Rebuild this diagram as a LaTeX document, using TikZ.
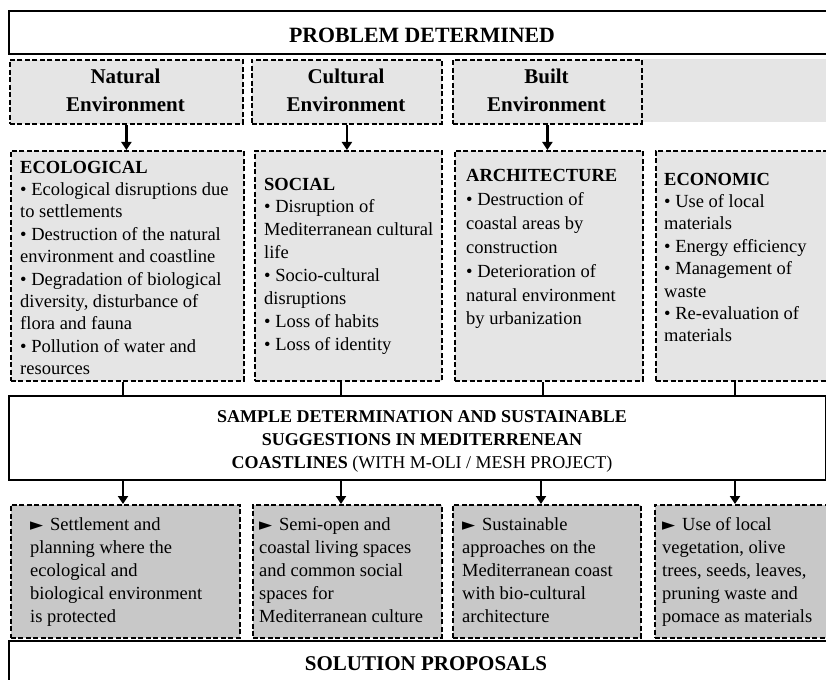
\documentclass[tikz,border=0pt]{standalone}
\usepackage{fontspec}
\setmainfont{Liberation Serif}
\newfontfamily\dvs{DejaVu Sans}
\usetikzlibrary{arrows.meta}
\definecolor{lgray}{HTML}{E5E5E5}
\definecolor{dgray}{HTML}{C8C8C8}
\newcommand{\ptr}{\makebox[20pt][l]{\dvs\fontsize{17}{17}\selectfont ►}}
\begin{document}
\begin{tikzpicture}[x=1pt,y=-1pt,
  solidbox/.style={draw=black, line width=2pt, fill=white, inner sep=0pt, anchor=north west},
  dashbox/.style={draw=black, line width=1.8pt, dash pattern=on 5pt off 2.5pt, inner sep=0pt, anchor=north west},
  txt/.style={inner sep=0pt, anchor=base west},
  arr/.style={line width=2.4pt, -{Triangle[width=10pt,length=8pt]}},
  conn/.style={line width=2.6pt}
]
\useasboundingbox (0,0) rectangle (826,679);
% top box
\node[solidbox, minimum width=832pt, minimum height=43pt] (prob) at (8,10) {};
\node[inner sep=0pt, anchor=base] (probt) at (422,43) {\fontsize{21.8}{26}\selectfont\bfseries PROBLEM DETERMINED};
% row 1
\fill[lgray] (641,59) rectangle (830,122);
\node[dashbox, fill=lgray, minimum width=233pt, minimum height=64pt] (n1) at (9,59) {};
\node[dashbox, fill=lgray, minimum width=190pt, minimum height=64pt] (n2) at (251,59) {};
\node[dashbox, fill=lgray, minimum width=189pt, minimum height=64pt] (n3) at (452,59) {};
\node[inner sep=0pt, anchor=base] (n1t) at (125.5,84) {\parbox[t]{200pt}{\centering\fontsize{21}{28}\selectfont\bfseries Natural\\Environment}};
\node[inner sep=0pt, anchor=base] (n2t) at (346,84) {\parbox[t]{200pt}{\centering\fontsize{21}{28}\selectfont\bfseries Cultural\\Environment}};
\node[inner sep=0pt, anchor=base] (n3t) at (546.5,84) {\parbox[t]{200pt}{\centering\fontsize{21}{28}\selectfont\bfseries Built\\Environment}};
% row 2
\node[dashbox, fill=lgray, minimum width=233pt, minimum height=230pt] (e1) at (10,150) {};
\node[dashbox, fill=lgray, minimum width=187pt, minimum height=230pt] (e2) at (254,150) {};
\node[dashbox, fill=lgray, minimum width=188pt, minimum height=230pt] (e3) at (454,150) {};
\node[dashbox, fill=lgray, minimum width=185pt, minimum height=230pt] (e4) at (655,150) {};
\node[txt] (e1t) at (20,173) {\parbox[t]{230pt}{\fontsize{18.5}{22.4}\selectfont
\textbf{ECOLOGICAL}\\
• Ecological disruptions due\\
to settlements\\
• Destruction of the natural\\
environment and coastline\\
• Degradation of biological\\
diversity, disturbance of\\
flora and fauna\\
• Pollution of water and\\
resources}};
\node[txt] (e2t) at (264,190) {\parbox[t]{230pt}{\fontsize{18.5}{22.9}\selectfont
\textbf{SOCIAL}\\
• Disruption of\\
Mediterranean cultural\\
life\\
• Socio-cultural\\
disruptions\\
• Loss of habits\\
• Loss of identity}};
\node[txt] (e3t) at (466,182) {\parbox[t]{230pt}{\fontsize{18.5}{23.8}\selectfont
\textbf{ARCHITECTURE}\\
• Destruction of\\
coastal areas by\\
construction\\
• Deterioration of\\
natural environment\\
by urbanization}};
\node[txt] (e4t) at (664,185) {\parbox[t]{230pt}{\fontsize{18.5}{22.4}\selectfont
\textbf{ECONOMIC}\\
• Use of local\\
materials\\
• Energy efficiency\\
• Management of\\
waste\\
• Re-evaluation of\\
materials}};
% middle box
\node[solidbox, minimum width=817pt, minimum height=84pt] (mid) at (8,395) {};
\node[inner sep=0pt, anchor=base] (midt) at (422,422) {\parbox[t]{600pt}{\centering\fontsize{18}{23}\selectfont
\textbf{SAMPLE DETERMINATION AND SUSTAINABLE}\\
\textbf{SUGGESTIONS IN MEDITERRENEAN}\\
\textbf{COASTLINES} (WITH M-OLI / MESH PROJECT)}};
% bottom row
\node[dashbox, fill=dgray, minimum width=229pt, minimum height=133pt] (s1) at (10,504) {};
\node[dashbox, fill=dgray, minimum width=189pt, minimum height=133pt] (s2) at (252,504) {};
\node[dashbox, fill=dgray, minimum width=188pt, minimum height=133pt] (s3) at (452,504) {};
\node[dashbox, fill=dgray, minimum width=186pt, minimum height=133pt] (s4) at (654,504) {};
\node[txt] (s1t) at (30,530) {\parbox[t]{230pt}{\fontsize{18.5}{23}\selectfont
\ptr Settlement and\\
planning where the\\
ecological and\\
biological environment\\
is protected}};
\node[txt] (s2t) at (259,530) {\parbox[t]{230pt}{\fontsize{18.5}{23}\selectfont
\ptr Semi-open and\\
coastal living spaces\\
and common social\\
spaces for\\
Mediterranean culture}};
\node[txt] (s3t) at (462,530) {\parbox[t]{230pt}{\fontsize{18.5}{23}\selectfont
\ptr Sustainable\\
approaches on the\\
Mediterranean coast\\
with bio-cultural\\
architecture}};
\node[txt] (s4t) at (662,530) {\parbox[t]{230pt}{\fontsize{18.5}{23}\selectfont
\ptr Use of local\\
vegetation, olive\\
trees, seeds, leaves,\\
pruning waste and\\
pomace as materials}};
% solution box
\node[solidbox, minimum width=836pt, minimum height=70pt] (sol) at (8,640) {};
\node[inner sep=0pt, anchor=base] (solt) at (426,670) {\fontsize{21}{26}\selectfont\bfseries SOLUTION PROPOSALS};
% column coordinates
\coordinate (c1) at (123,0);
\coordinate (c2) at (341,0);
\coordinate (c3) at (543,0);
\coordinate (c3b) at (541,0);
\coordinate (c4) at (735,0);
% arrows row1 -> row2
\draw[arr] (n1.south) -- (n1.south |- e1.north);
\draw[arr] (n2.south) -- (n2.south |- e2.north);
\draw[arr] (n3.south) -- (n3.south |- e3.north);
% row2 -> middle
\draw[conn] (e1.south -| c1) -- (mid.north -| c1);
\draw[conn] (e2.south -| c2) -- (mid.north -| c2);
\draw[conn] (e3.south -| c3) -- (mid.north -| c3);
\draw[conn] (e4.south -| c4) -- (mid.north -| c4);
% middle -> bottom
\draw[arr] (mid.south -| c1) -- (s1.north -| c1);
\draw[arr] (mid.south -| c2) -- (s2.north -| c2);
\draw[arr] (mid.south -| c3b) -- (s3.north -| c3b);
\draw[arr] (mid.south -| c4) -- (s4.north -| c4);
\end{tikzpicture}
\end{document}
